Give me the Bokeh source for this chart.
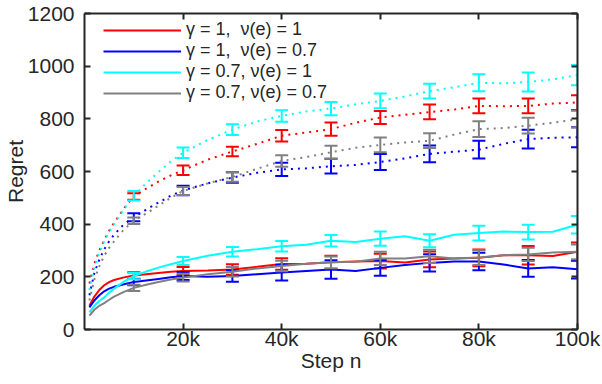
from bokeh.plotting import figure
from bokeh.models import (Range1d, LinearAxis, FixedTicker, Legend, LegendItem,
                          ColumnDataSource, CustomLabelingPolicy)
from bokeh.embed import file_html
from bokeh.resources import INLINE

# ---------------- data ----------------
steps = [1000, 2000, 3000, 4000, 5000, 6000, 8000, 10000, 12500, 15000, 17500, 20000,
         25000, 30000, 35000, 40000, 45000, 50000, 55000, 60000, 65000, 70000, 75000,
         80000, 85000, 90000, 95000, 100000]

# solid curves
red_solid = [90, 125, 150, 168, 180, 188, 198, 205, 210, 215, 219, 222,
             224, 228, 238, 249, 250, 255, 258, 260, 254, 266, 270, 272, 282, 282, 279, 295]
blue_solid = [84, 110, 130, 145, 155, 162, 172, 180, 186, 192, 198, 203,
              200, 203, 210, 216, 222, 228, 222, 234, 245, 253, 258, 258, 247, 232, 236, 229]
cyan_solid = [65, 90, 108, 122, 140, 155, 182, 203, 220, 235, 248, 260,
              280, 295, 305, 316, 322, 337, 332, 345, 354, 337, 360, 366, 372, 370, 371, 398]
gray_solid = [53, 75, 90, 100, 113, 125, 143, 158, 170, 180, 190, 197,
              210, 219, 232, 241, 250, 255, 257, 270, 270, 278, 270, 273, 282, 285, 292, 295]

# dotted curves
red_dot = [175, 250, 300, 340, 375, 405, 460, 505, 535, 562, 585, 605,
           645, 676, 705, 736, 748, 761, 785, 805, 815, 826, 835, 849, 848, 849, 858, 862]
blue_dot = [130, 215, 265, 305, 335, 360, 400, 426, 455, 482, 508, 528,
            555, 577, 595, 608, 612, 620, 625, 636, 650, 667, 675, 683, 705, 723, 728, 730]
cyan_dot = [150, 235, 290, 335, 370, 400, 458, 508, 555, 598, 638, 671,
            720, 759, 790, 811, 828, 839, 855, 868, 885, 905, 920, 937, 935, 940, 950, 966]
gray_dot = [110, 190, 240, 280, 310, 335, 380, 413, 440, 470, 500, 526,
            555, 579, 610, 640, 655, 673, 690, 701, 710, 717, 740, 761, 765, 774, 785, 799]

# error bars at 10k, 20k, ..., 100k (half-widths)
err_steps = [10000, 20000, 30000, 40000, 50000, 60000, 70000, 80000, 90000, 100000]
red_solid_err = [12, 15, 20, 22, 25, 28, 30, 32, 35, 35]
blue_solid_err = [12, 15, 22, 30, 35, 30, 33, 33, 32, 35]
cyan_solid_err = [12, 15, 18, 20, 22, 27, 25, 28, 28, 33]
gray_solid_err = [12, 15, 18, 20, 22, 25, 25, 28, 25, 28]
red_dot_err = [12, 18, 18, 22, 25, 25, 28, 28, 28, 28]
blue_dot_err = [15, 18, 20, 25, 28, 30, 32, 34, 36, 38]
cyan_dot_err = [18, 20, 20, 22, 25, 28, 28, 32, 36, 38]
gray_dot_err = [12, 15, 18, 22, 25, 28, 28, 30, 30, 32]

labels = ["\u03b3 = 1,\u00a0 \u03bd(e) = 1", "\u03b3 = 1,\u00a0 \u03bd(e) = 0.7",
          "\u03b3 = 0.7, \u03bd(e) = 1", "\u03b3 = 0.7, \u03bd(e) = 0.7"]
colors = ["#ff0000", "#0000ff", "#00ffff", "#808080"]

x_limits = [0, 100000]
y_limits = [0, 1200]
xtick_values = [20000, 40000, 60000, 80000, 100000]
xtick_labels = ["20k", "40k", "60k", "80k", "100k"]
ytick_values = [0, 200, 400, 600, 800, 1000, 1200]

# ---------------- figure ----------------
FONT = "Liberation Sans"
AX = "#262626"

p = figure(width=602, height=384,
           x_range=Range1d(*x_limits), y_range=Range1d(*y_limits),
           output_backend="svg", toolbar_location=None,
           min_border_left=83, min_border_right=25, min_border_top=13, min_border_bottom=55)
p.grid.visible = False
p.outline_line_color = None
p.background_fill_color = "white"
p.border_fill_color = "white"

HIDE_CODE = """
const n = indices.size;
for (let i = 0; i < n; i++) {
  try { indices.unset(i); } catch (e) { try { indices.set(i, false); } catch (e2) {} }
}
return indices;
"""

def style_axis(ax, show_labels=True):
    ax.axis_line_color = AX
    ax.axis_line_width = 2
    ax.major_tick_line_color = AX
    ax.major_tick_line_width = 2
    ax.major_tick_in = 6
    ax.major_tick_out = 0
    ax.minor_tick_line_color = None
    ax.major_label_text_font = FONT
    ax.major_label_text_color = AX
    if show_labels:
        ax.major_label_text_font_size = "21px"
    else:
        ax.major_label_text_font_size = "0px"
        ax.major_label_standoff = 0
        ax.major_label_policy = CustomLabelingPolicy(code=HIDE_CODE)

xax = p.xaxis[0]
yax = p.yaxis[0]
xax.ticker = FixedTicker(ticks=xtick_values)
xax.major_label_overrides = {v: l for v, l in zip(xtick_values, xtick_labels)}
yax.ticker = FixedTicker(ticks=ytick_values)
style_axis(xax)
style_axis(yax)
xax.major_label_standoff = -3
yax.major_label_standoff = 10
for ax, lab in ((xax, "Step n"), (yax, "Regret")):
    ax.axis_label = lab
    ax.axis_label_text_font = FONT
    ax.axis_label_text_font_size = "21px"
    ax.axis_label_text_font_style = "normal"
    ax.axis_label_text_color = AX
xax.axis_label_standoff = -4
yax.axis_label_standoff = -2

top = LinearAxis(ticker=FixedTicker(ticks=xtick_values))
right = LinearAxis(ticker=FixedTicker(ticks=ytick_values))
style_axis(top, False)
style_axis(right, False)
p.add_layout(top, "above")
p.add_layout(right, "right")

solid_sets = [red_solid, blue_solid, cyan_solid, gray_solid]
dot_sets = [red_dot, blue_dot, cyan_dot, gray_dot]
solid_errs = [red_solid_err, blue_solid_err, cyan_solid_err, gray_solid_err]
dot_errs = [red_dot_err, blue_dot_err, cyan_dot_err, gray_dot_err]

legend_items = []
for c, lab, ys, yd, es, ed in zip(colors, labels, solid_sets, dot_sets, solid_errs, dot_errs):
    r = p.line(steps, ys, line_color=c, line_width=2)
    p.line(steps, yd, line_color=c, line_width=2, line_dash="2 5")
    legend_items.append(LegendItem(label=lab, renderers=[r]))
    for series, errs in ((ys, es), (yd, ed)):
        centers = [series[steps.index(s)] for s in err_steps]
        lo = [m - e for m, e in zip(centers, errs)]
        hi = [m + e for m, e in zip(centers, errs)]
        src = ColumnDataSource(dict(x=err_steps, lo=lo, hi=hi))
        p.segment(x0="x", y0="lo", x1="x", y1="hi", source=src, line_color=c, line_width=2)
        p.scatter(x="x", y="lo", source=src, marker="dash", size=13, line_color=c, line_width=2)
        p.scatter(x="x", y="hi", source=src, marker="dash", size=13, line_color=c, line_width=2)

legend = Legend(items=legend_items, location=(19, 226), padding=0, margin=0, spacing=-1,
                glyph_width=78, glyph_height=20, label_height=20, label_standoff=5,
                label_text_font=FONT, label_text_font_size="18px", label_text_color=AX,
                border_line_color=None, background_fill_alpha=0)
p.add_layout(legend)

open("out.html", "w").write(file_html(p, INLINE))
